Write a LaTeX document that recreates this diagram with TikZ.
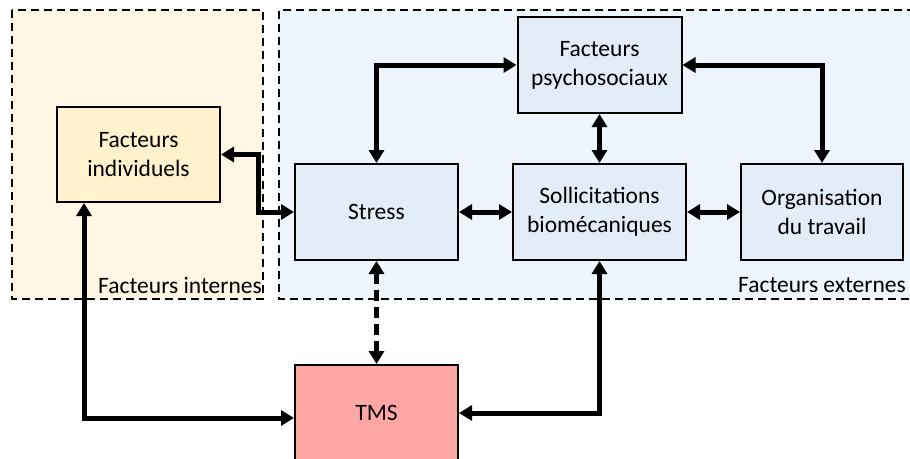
\documentclass[tikz,border=0pt]{standalone}
\usepackage{fontspec}
\setmainfont{Carlito}
\usetikzlibrary{arrows.meta,calc}
\definecolor{intfill}{HTML}{FFF6E3}
\definecolor{extfill}{HTML}{EDF4FB}
\definecolor{fibox}{HTML}{FFF2CC}
\definecolor{bluebox}{HTML}{E3EDF8}
\definecolor{tmsfill}{HTML}{FFA6A6}
\tikzset{
  box/.style={draw=black, line width=2pt, align=center, inner sep=0pt,
    font=\fontsize{23.5}{29}\selectfont},
  region/.style={draw=black, line width=1.6pt, dash pattern=on 8pt off 5pt},
  conn/.style={line width=5pt, {Triangle[length=13pt,width=15pt]}-{Triangle[length=13pt,width=15pt]}},
  dconn/.style={conn, dash pattern=on 11pt off 6pt},
  lbl/.style={font=\fontsize{23.5}{29}\selectfont, inner sep=0pt},
}
\begin{document}
\begin{tikzpicture}[x=1pt,y=-1pt]
\clip (0,0) rectangle (910,458);
\fill[white] (0,0) rectangle (910,458);
% regions
\fill[intfill] (12,10) rectangle (263,299);
\draw[region] (12,10) rectangle (263,299);
\fill[extfill] (279,10) rectangle (915,299);
\draw[region] (915,10) -- (279,10) -- (279,299) -- (915,299);
\node[lbl, anchor=east] (lint) at (262,285) {Facteurs internes};
\node[lbl, anchor=east] (lext) at (906,285) {Facteurs externes};
% boxes
\node[box, fill=fibox, minimum width=163pt, minimum height=95pt] (fi) at (138.5,154.5) {Facteurs\\individuels};
\node[box, fill=bluebox, minimum width=163pt, minimum height=96pt] (stress) at (376.5,212) {Stress};
\node[box, fill=bluebox, minimum width=173pt, minimum height=96pt] (soll) at (599.5,212) {Sollicitations\\biomécaniques};
\node[box, fill=bluebox, minimum width=164pt, minimum height=96pt] (psy) at (599.5,65) {Facteurs\\psychosociaux};
\node[box, fill=bluebox, minimum width=162pt, minimum height=96pt] (org) at (822,212) {Organisation\\du travail};
\node[box, fill=tmsfill, minimum width=163pt, minimum height=96pt] (tms) at (376.5,413) {TMS};
% connectors
\draw[conn] (stress.north) |- (psy.west);
\draw[conn] (psy.east) -| (org.north);
\draw[conn] (psy.south) -- (soll.north);
\draw[conn] (stress.east) -- (soll.west);
\draw[conn] (soll.east) -- (org.west);
\draw[conn] (fi.east) -- ([xshift=37pt]fi.east) |- (stress.west);
\draw[conn] ([xshift=-54.5pt]fi.south) |- ([yshift=-5pt]tms.west);
\draw[conn] (soll.south) |- (tms.east);
\draw[dconn] (stress.south) -- (tms.north);
\end{tikzpicture}
\end{document}
